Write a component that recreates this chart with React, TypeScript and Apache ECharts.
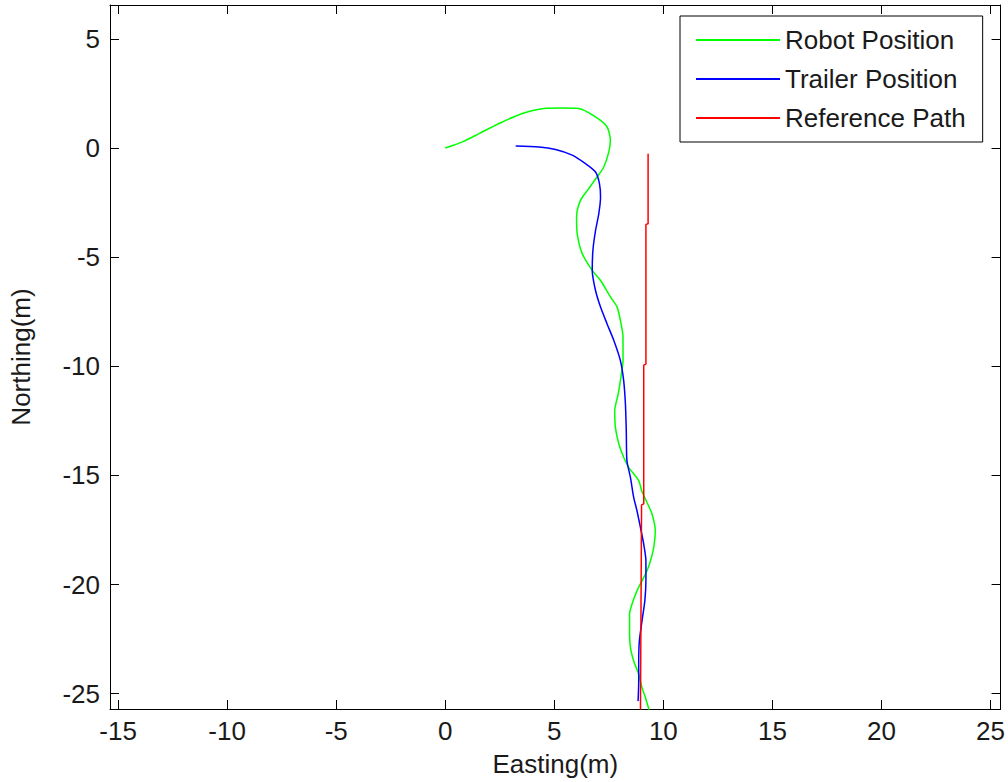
import React, { useEffect, useRef } from "react";
import * as echarts from "echarts";

const seriesNames = ["Robot Position", "Trailer Position", "Reference Path"];

const robotEasting = [0, 0.79, 1.55, 2.47, 3.53, 4.53, 5.36, 6.13, 6.89, 7.42, 7.57, 7.5, 7.27, 6.96, 6.58, 6.2, 6.02, 6.05, 6.28, 6.74, 7.12, 7.58, 7.88, 8.03, 8.15, 8.15, 8.03, 7.93, 7.77, 7.8, 7.96, 8.18, 8.41, 8.87, 9.02, 9.25, 9.48, 9.63, 9.56, 9.41, 9.25, 9.02, 8.79, 8.56, 8.45, 8.45, 8.49, 8.64, 8.87, 9.02, 9.18, 9.36];
const robotNorthing = [0, 0.28, 0.66, 1.12, 1.58, 1.81, 1.83, 1.81, 1.42, 0.96, 0.35, -0.18, -0.87, -1.33, -1.86, -2.4, -3.17, -3.93, -4.84, -5.61, -6.07, -6.83, -7.29, -7.9, -8.67, -9.74, -10.66, -11.27, -12.03, -12.8, -13.56, -14.17, -14.63, -15.24, -15.75, -16.24, -16.77, -17.54, -18.3, -18.91, -19.37, -19.83, -20.29, -20.9, -21.36, -22.12, -22.89, -23.5, -24.11, -24.72, -25.18, -25.79];

const trailerEasting = [3.23, 4.3, 5.06, 5.82, 6.43, 6.89, 7.07, 7.12, 7.04, 6.89, 6.77, 6.74, 6.89, 7.12, 7.42, 7.73, 8.03, 8.18, 8.26, 8.3, 8.33, 8.49, 8.64, 8.79, 8.95, 9.1, 9.2, 9.2, 9.15, 9.02, 8.9, 8.87, 8.87, 8.84];
const trailerNorthing = [0.09, 0.05, -0.07, -0.33, -0.72, -1.1, -1.63, -2.25, -3.01, -3.78, -4.69, -5.61, -6.53, -7.29, -8.06, -8.82, -9.74, -10.66, -11.72, -12.95, -14.33, -15.09, -16.01, -16.62, -17.39, -18.15, -18.91, -19.83, -20.75, -21.67, -22.58, -23.5, -24.42, -25.34];

const referenceEasting = [9.3, 9.3, 9.2, 9.2, 9.1, 9.1, 9.0, 8.95];
const referenceNorthing = [-0.26, -3.47, -3.5, -9.9, -9.95, -16.3, -16.35, -25.75];

const xTicks = [-15, -10, -5, 0, 5, 10, 15, 20, 25];
const yTicks = [-25, -20, -15, -10, -5, 0, 5];

const xMin = -15.37;
const xMax = 25.46;
const yMin = -25.7;
const yMax = 6.55;

const zip = (a: number[], b: number[]) => a.map((v, i) => [v, b[i]]);

const FONT = "'Liberation Sans', Arial, sans-serif";
const TEXT = "#1a1a1a";

export default function App() {
  const ref = useRef<HTMLDivElement>(null);
  useEffect(() => {
    if (!ref.current) return;
    const chart = echarts.init(ref.current, undefined, { renderer: "svg" });
    const tick = {
      show: true,
      inside: true,
      length: 9,
      lineStyle: { color: "#000", width: 1 },
    };
    const axisLineStyle = { show: true, onZero: false, lineStyle: { color: "#000", width: 1 } };
    chart.setOption({
      animation: false,
      backgroundColor: "#fff",
      textStyle: { fontFamily: FONT },
      grid: { left: 110, top: 5, right: 6, bottom: 73, containLabel: false },
      legend: {
        orient: "vertical",
        left: 680,
        top: 16,
        data: seriesNames,
        icon: "rect",
        itemWidth: 84,
        itemHeight: 2,
        itemGap: 9,
        padding: [9, 17, 9, 16],
        borderColor: "#000",
        borderWidth: 1,
        backgroundColor: "#fff",
        selectedMode: false,
        textStyle: { fontSize: 26, lineHeight: 30, color: TEXT, fontFamily: FONT },
      },
      xAxis: [
        {
          type: "value",
          position: "bottom",
          min: xMin,
          max: xMax,
          name: "Easting(m)",
          nameLocation: "middle",
          nameGap: 42,
          nameTextStyle: { fontSize: 26, color: TEXT, fontFamily: FONT },
          axisLine: axisLineStyle,
          axisTick: { ...tick, customValues: xTicks },
          axisLabel: { show: true, customValues: xTicks, fontSize: 26, color: TEXT, margin: 9, fontFamily: FONT },
          splitLine: { show: false },
        },
        {
          type: "value",
          position: "top",
          min: xMin,
          max: xMax,
          axisLine: axisLineStyle,
          axisTick: { ...tick, customValues: xTicks },
          axisLabel: { show: false, customValues: xTicks },
          splitLine: { show: false },
        },
      ],
      yAxis: [
        {
          type: "value",
          position: "left",
          min: yMin,
          max: yMax,
          name: "Northing(m)",
          nameLocation: "middle",
          nameGap: 76,
          nameRotate: 90,
          nameTextStyle: { fontSize: 26, color: TEXT, fontFamily: FONT },
          axisLine: axisLineStyle,
          axisTick: { ...tick, customValues: yTicks },
          axisLabel: { show: true, customValues: yTicks, fontSize: 26, color: TEXT, margin: 10, fontFamily: FONT },
          splitLine: { show: false },
        },
        {
          type: "value",
          position: "right",
          min: yMin,
          max: yMax,
          axisLine: axisLineStyle,
          axisTick: { ...tick, customValues: yTicks },
          axisLabel: { show: false, customValues: yTicks },
          splitLine: { show: false },
        },
      ],
      series: [
        {
          name: seriesNames[0],
          type: "line",
          xAxisIndex: 0,
          yAxisIndex: 0,
          data: zip(robotEasting, robotNorthing),
          symbol: "none",
          smooth: 0.25,
          lineStyle: { color: "#00ff00", width: 1.5 },
          itemStyle: { color: "#00ff00" },
          clip: true,
        },
        {
          name: seriesNames[1],
          type: "line",
          xAxisIndex: 0,
          yAxisIndex: 0,
          data: zip(trailerEasting, trailerNorthing),
          symbol: "none",
          smooth: 0.25,
          lineStyle: { color: "#0000ff", width: 1.5 },
          itemStyle: { color: "#0000ff" },
          clip: true,
        },
        {
          name: seriesNames[2],
          type: "line",
          xAxisIndex: 0,
          yAxisIndex: 0,
          data: zip(referenceEasting, referenceNorthing),
          symbol: "none",
          lineStyle: { color: "#ff0000", width: 1.5 },
          itemStyle: { color: "#ff0000" },
          clip: true,
        },
      ],
    });
    return () => chart.dispose();
  }, []);
  return (
    <div
      ref={ref}
      style={{ position: "fixed", left: 0, top: 0, width: 1008, height: 782, background: "#fff" }}
    />
  );
}
